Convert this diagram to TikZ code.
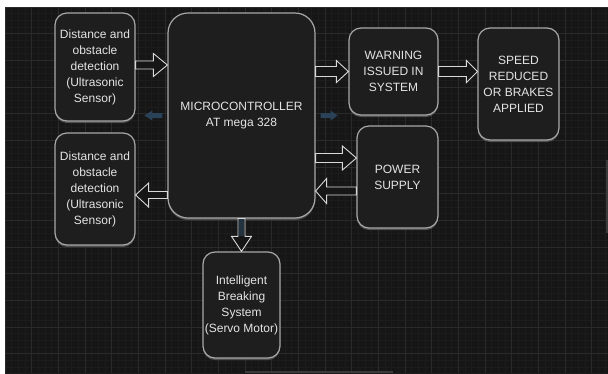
\documentclass[tikz,border=0pt]{standalone}
\usepackage{fontspec}
\setmainfont{Liberation Sans}
\usetikzlibrary{calc,shadows}
\definecolor{bgc}{HTML}{161616}
\definecolor{gridminor}{HTML}{1C1C1C}
\definecolor{gridmajor}{HTML}{2A2A2A}
\definecolor{barc}{HTML}{3A3A3A}
\definecolor{boxfill}{HTML}{1E1E1E}
\definecolor{boxline}{HTML}{A8A8A8}
\definecolor{txt}{HTML}{E4E4E4}
\definecolor{arrline}{HTML}{D8D8D8}
\definecolor{bluearr}{HTML}{2A4258}
\definecolor{blueshaft}{HTML}{22323F}
\tikzset{
  x=1pt, y=-1pt,
  blk/.style={draw=boxline, line width=1.2pt, fill=boxfill, rounded corners=12pt,
    inner sep=0pt, align=center, text=txt, font=\fontsize{12}{16}\selectfont,
    drop shadow={shadow xshift=0pt, shadow yshift=-2pt, fill=black!60!white, opacity=0.7}},
  barrow/.style={draw=arrline, line width=0.9pt, fill=bgc, line join=miter},
}
% right-pointing block arrow: #1 start, #2 tip, #3 shaft half, #4 head half, #5 head length
\newcommand\barrowR[5]{\draw[barrow] let \p1=#1, \p2=#2 in
  (\x1,\y1+#3) -- (\x2-#5,\y1+#3) -- (\x2-#5,\y1+#4) -- (\x2,\y1) -- (\x2-#5,\y1-#4) -- (\x2-#5,\y1-#3) -- (\x1,\y1-#3) -- cycle;}
\newcommand\barrowL[5]{\draw[barrow] let \p1=#1, \p2=#2 in
  (\x1,\y1+#3) -- (\x2+#5,\y1+#3) -- (\x2+#5,\y1+#4) -- (\x2,\y1) -- (\x2+#5,\y1-#4) -- (\x2+#5,\y1-#3) -- (\x1,\y1-#3) -- cycle;}
\newcommand\barrowD[5]{%
  \draw[barrow] let \p1=#1, \p2=#2 in
  (\x1-#3,\y1) -- (\x1-#3,\y2+#5) -- (\x1-#4,\y2+#5) -- (\x1,\y2) -- (\x1+#4,\y2+#5) -- (\x1+#3,\y2+#5) -- (\x1+#3,\y1) -- cycle;
  \fill[blueshaft] let \p1=#1, \p2=#2 in (\x1-#3+0.6pt,\y1) rectangle (\x1+#3-0.6pt,\y2+#5+0.6pt);}
\begin{document}
\begin{tikzpicture}
\useasboundingbox (0,0) rectangle (608,373);
\fill[white] (0,0) rectangle (608,373);
\fill[bgc] (5,7) rectangle (608,373);
\begin{scope}
\clip (5,7) rectangle (608,373);
\foreach \i in {0,...,91} {
  \draw[gridminor, line width=0.5pt] ({5+6.667*\i},7) -- ({5+6.667*\i},373);
}
\foreach \i in {0,...,55} {
  \draw[gridminor, line width=0.5pt] (5,{7+6.667*\i}) -- (608,{7+6.667*\i});
}
\foreach \i in {0,...,23} {
  \draw[gridmajor, line width=0.8pt] ({5+26.667*\i},7) -- ({5+26.667*\i},373);
}
\foreach \i in {0,...,14} {
  \draw[gridmajor, line width=0.8pt] (5,{7+26.667*\i}) -- (608,{7+26.667*\i});
}
\end{scope}
\fill[barc] (245,370.5) rectangle (393,373);
\fill[barc] (606,160) rectangle (608,233);

% nodes
\node[blk, minimum width=80pt, minimum height=108pt] (A) at (95,67)
  {Distance and\\obstacle\\detection\\(Ultrasonic\\Sensor)};
\node[blk, minimum width=80pt, minimum height=112pt] (B) at (95,189)
  {Distance and\\obstacle\\detection\\(Ultrasonic\\Sensor)};
\node[blk, rounded corners=20pt, minimum width=147pt, minimum height=205pt] (M) at (241.5,115.5)
  {MICROCONTROLLER\\AT mega 328};
\node[blk, minimum width=89pt, minimum height=87pt] (W) at (393.5,71.5)
  {WARNING\\ISSUED IN\\SYSTEM};
\node[blk, minimum width=81pt, minimum height=112pt] (S) at (518.5,84)
  {SPEED\\REDUCED\\OR BRAKES\\APPLIED};
\node[blk, minimum width=81pt, minimum height=102pt] (P) at (397.5,177)
  {POWER\\SUPPLY};
\node[blk, minimum width=77pt, minimum height=106pt] (I) at (241.5,305)
  {Intelligent\\Breaking\\System\\(Servo Motor)};

% anchor points for the arrows
\coordinate (a1) at ([yshift=2pt]A.east);
\coordinate (mp) at ([yshift=19pt]P.west);
\coordinate (pm) at ([yshift=-14pt]P.west);
\coordinate (mb) at ([yshift=-6pt]B.east);

% block arrows
\barrowR{(a1)}{(a1 -| M.west)}{4pt}{11.5pt}{14pt}
\barrowR{(W.west -| M.east)}{(W.west)}{5pt}{11pt}{12pt}
\barrowR{(W.east)}{(W.east -| S.west)}{5pt}{11pt}{11pt}
\barrowR{(mp -| M.east)}{(mp)}{4.5pt}{12pt}{14pt}
\barrowL{(pm)}{(pm -| M.east)}{4pt}{12.5pt}{11pt}
\barrowL{(mb -| M.west)}{(mb)}{3.5pt}{12pt}{13pt}
\barrowD{(M.south)}{(I.north)}{3.5pt}{10pt}{15pt}

% small blue arrows
\coordinate (lb) at ([xshift=-5pt]M.west);
\coordinate (rb) at ([xshift=5pt]M.east);
\fill[bluearr] let \p1=(lb) in
  (\x1,\y1+2.5pt) -- (\x1-10pt,\y1+2.5pt) -- (\x1-10pt,\y1+5pt) -- (\x1-18pt,\y1) -- (\x1-10pt,\y1-5pt) -- (\x1-10pt,\y1-2.5pt) -- (\x1,\y1-2.5pt) -- cycle;
\fill[bluearr] let \p1=(rb) in
  (\x1,\y1+2.5pt) -- (\x1+10pt,\y1+2.5pt) -- (\x1+10pt,\y1+5pt) -- (\x1+17pt,\y1) -- (\x1+10pt,\y1-5pt) -- (\x1+10pt,\y1-2.5pt) -- (\x1,\y1-2.5pt) -- cycle;
\end{tikzpicture}
\end{document}
